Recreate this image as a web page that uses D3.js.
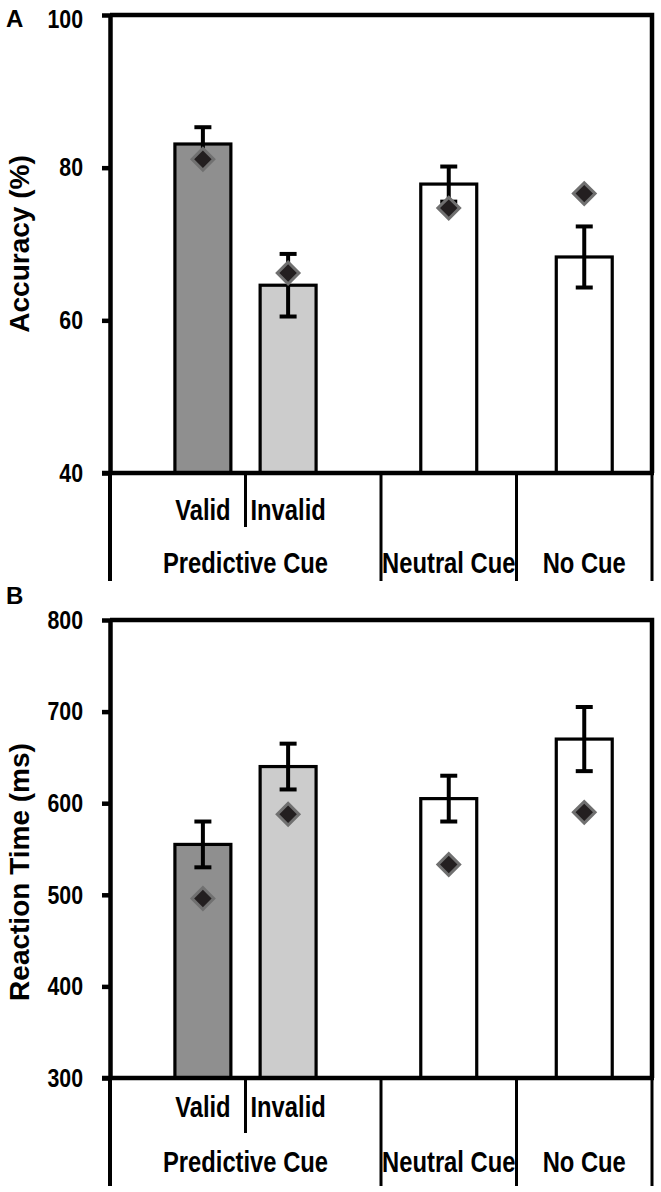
<!DOCTYPE html>
<html><head><meta charset="utf-8">
<script src="https://cdn.jsdelivr.net/npm/d3@7"></script>
<style>body{margin:0;background:#fff} svg{display:block}</style>
</head><body><svg id="c" width="661" height="1192"></svg>
<script>
// ---------- data ----------
const conditions = ["Valid", "Invalid", "Neutral Cue", "No Cue"];
const groups = ["Predictive Cue", "Neutral Cue", "No Cue"];
const groupSlots = [2, 1, 1];
const groupOf = ["Predictive Cue", "Predictive Cue", "Neutral Cue", "No Cue"];
const subLabels = ["Valid", "Invalid", "", ""];
const barFills = ["#8f8f8f", "#cccccc", "#ffffff", "#ffffff"];

const accMean = [83.1, 64.6, 77.85, 68.3];
const accErr = [2.2, 4.1, 2.3, 4.0];
const accDiamond = [81.1, 66.2, 74.7, 76.6];
const accTicks = [40, 60, 80, 100];

const rtMean = [555, 640, 605, 670];
const rtErr = [25, 25, 25, 35];
const rtDiamond = [496, 588, 533, 590];
const rtTicks = [300, 400, 500, 600, 700, 800];

// ---------- layout ----------
const svg = d3.select("#c");
const font = "'Liberation Sans',Arial,sans-serif";
const NARROW = 0.82;
const X0 = 110, X1 = 652;
const totalSlots = d3.sum(groupSlots);
const slot = d3.scaleLinear().domain([0, totalSlots]).range([X0, X1]);
const groupStart = groupSlots.map((s, i) => d3.sum(groupSlots.slice(0, i)));
const groupScale = groups.map((g, i) =>
  d3.scalePoint()
    .domain(conditions.filter((c, j) => groupOf[j] === g))
    .range([slot(groupStart[i]), slot(groupStart[i] + groupSlots[i])])
    .padding(1.09));
const xCenter = c => {
  const j = conditions.indexOf(c);
  const gi = groups.indexOf(groupOf[j]);
  return groupScale[gi](c);
};
const barW = (slot(1) - slot(0)) * 0.413;

function narrowText(g, x, y, txt, size, anchor) {
  return g.append("text")
    .attr("transform", `translate(${x},${y}) scale(${NARROW},1)`)
    .attr("text-anchor", anchor || "middle")
    .attr("font-family", font).attr("font-weight", "bold").attr("font-size", size)
    .attr("fill", "#000").text(txt);
}

function panel(cfg) {
  const y = d3.scaleLinear().domain(cfg.domain).range([cfg.bottom, cfg.top]);
  const g = svg.append("g");
  const data = conditions.map((c, i) => ({c, i, m: cfg.mean[i], e: cfg.err[i], d: cfg.dia[i]}));

  // bars
  g.selectAll("rect.bar").data(data).join("rect")
    .attr("x", d => xCenter(d.c) - barW / 2)
    .attr("y", d => y(d.m))
    .attr("width", barW)
    .attr("height", d => y(cfg.domain[0]) - y(d.m))
    .attr("fill", d => barFills[d.i])
    .attr("stroke", "#000").attr("stroke-width", 3.2);

  // error bars
  const capW = 17;
  data.forEach(d => {
    const cx = xCenter(d.c);
    g.append("line").attr("x1", cx).attr("x2", cx)
      .attr("y1", y(d.m + d.e)).attr("y2", y(d.m - d.e))
      .attr("stroke", "#000").attr("stroke-width", 4);
    [d.m + d.e, d.m - d.e].forEach(v => {
      g.append("line").attr("x1", cx - capW / 2).attr("x2", cx + capW / 2)
        .attr("y1", y(v)).attr("y2", y(v))
        .attr("stroke", "#000").attr("stroke-width", 4);
    });
  });

  // diamonds
  g.selectAll("path.dia").data(data).join("path")
    .attr("d", d3.symbol().type(d3.symbolSquare).size(235))
    .attr("transform", d => `translate(${xCenter(d.c)},${y(d.d)}) rotate(45)`)
    .attr("fill", "#231f20").attr("stroke", "#707070").attr("stroke-width", 3);

  // plot frame (top + right)
  g.append("path")
    .attr("d", `M${X0},${cfg.top}H${X1}V${cfg.bottom}`)
    .attr("fill", "none").attr("stroke", "#000").attr("stroke-width", 4.5);

  // y axis
  const pad = 19;
  const ax = g.append("g").attr("transform", `translate(${X0},0)`)
    .call(d3.axisLeft(y).tickValues(cfg.ticks).tickSize(8).tickSizeOuter(0).tickPadding(pad));
  ax.select(".domain").attr("stroke-width", 4.5);
  ax.selectAll(".tick line").attr("stroke-width", 4.5);
  ax.selectAll(".tick text")
    .attr("x", null)
    .attr("transform", d => `translate(${-(8 + pad)},${d === cfg.domain[1] ? cfg.topShift : 0}) scale(${NARROW},1)`)
    .attr("font-family", font).attr("font-weight", "bold").attr("font-size", 26).attr("fill", "#000");

  // category table lines
  const lw = 3;
  const bounds = d3.range(totalSlots + 1).filter(k => k === 0 || k === totalSlots || groupStart.includes(k));
  bounds.forEach(k => {
    g.append("line").attr("x1", slot(k)).attr("x2", slot(k))
      .attr("y1", cfg.bottom).attr("y2", cfg.tableBottom)
      .attr("stroke", "#000").attr("stroke-width", k === 0 ? 4 : lw);
  });
  // short divider between sub-categories within multi-slot groups
  groups.forEach((gname) => {
    const members = conditions.filter((c, j) => groupOf[j] === gname);
    for (let k = 1; k < members.length; k++) {
      const xm = (xCenter(members[k - 1]) + xCenter(members[k])) / 2;
      g.append("line").attr("x1", xm).attr("x2", xm)
        .attr("y1", cfg.bottom).attr("y2", cfg.subBottom)
        .attr("stroke", "#000").attr("stroke-width", lw);
    }
  });

  // bottom axis line
  g.append("line").attr("x1", X0 - 8).attr("x2", X1 + 2)
    .attr("y1", cfg.bottom).attr("y2", cfg.bottom)
    .attr("stroke", "#000").attr("stroke-width", 4.5);

  // sub labels
  data.filter(d => subLabels[d.i]).forEach(d => {
    narrowText(g, xCenter(d.c), cfg.subBase, subLabels[d.i], 29);
  });
  // group labels
  groups.forEach((gname, gi) => {
    narrowText(g, slot(groupStart[gi] + groupSlots[gi] / 2), cfg.groupBase, gname, 29);
  });

  // y title
  g.append("text")
    .attr("transform", `translate(29,${cfg.titleY}) rotate(-90)`)
    .attr("text-anchor", "middle").attr("font-family", font).attr("font-weight", "bold")
    .attr("font-size", 28).text(cfg.title);

  // panel letter
  g.append("text").attr("x", 6).attr("y", cfg.letterY)
    .attr("font-family", font).attr("font-weight", "bold").attr("font-size", 24).text(cfg.letter);
}

panel({
  domain: [40, 100], ticks: accTicks, top: 15, bottom: 473,
  tableBottom: 581, subBottom: 527, subBase: 520, groupBase: 573,
  mean: accMean, err: accErr, dia: accDiamond, topShift: 4,
  title: "Accuracy (%)", titleY: 244, letter: "A", letterY: 27
});
panel({
  domain: [300, 800], ticks: rtTicks, top: 620, bottom: 1078,
  tableBottom: 1186, subBottom: 1133, subBase: 1117, groupBase: 1172,
  mean: rtMean, err: rtErr, dia: rtDiamond, topShift: 0,
  title: "Reaction Time (ms)", titleY: 872, letter: "B", letterY: 604
});
</script>
</body></html>
